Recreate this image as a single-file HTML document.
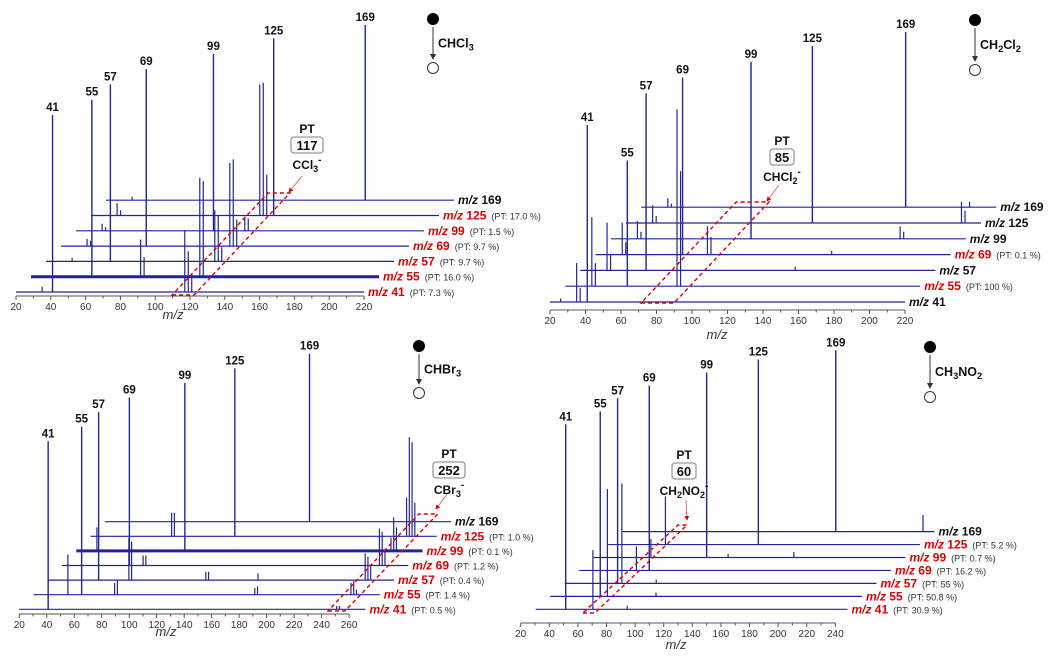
<!DOCTYPE html>
<html><head><meta charset="utf-8"><style>
html,body{margin:0;padding:0;background:#fff;}
svg{display:block;font-family:"Liberation Sans",sans-serif;}
</style></head><body>
<svg id="fig" width="1055" height="664" viewBox="0 0 1055 664" xmlns="http://www.w3.org/2000/svg"></svg>
<script>
// ---------- DATA ----------
const rowMz = [41, 55, 57, 69, 99, 125, 169];
// main peak heights (% of full scale) per panel
const p1Main = [100, 100, 100, 100, 100, 100, 99];
const p2Main = [100, 71, 100, 100, 100, 100, 99];
const p3Main = [100, 100, 100, 100, 100, 100, 100];
const p4Main = [100, 100, 100, 100, 100, 100, 98];
// PT percentages (null = no PT label)
const p1PT = ["7.3", "16.0", "9.7", "9.7", "1.5", "17.0", null];
const p2PT = [null, "100", null, "0.1", null, null, null];
const p3PT = ["0.5", "1.4", "0.4", "1.2", "0.1", "1.0", null];
const p4PT = ["30.9", "50.8", "55", "16.2", "0.7", "5.2", null];
// secondary peaks: row index, m/z, % height
const p1ExRow = [0,0,0,0, 1,1,1,1, 2,2,2,2, 3,3,3,3,3, 4,4,4,4, 5,5,5,5,5, 6];
const p1ExMz  = [35,117,119,121, 83,85,117,119, 35,117,119,121, 35,37,117,119,121, 35,37,117,119, 35,37,117,119,121, 35];
const p1ExPct = [3,35,23,10, 21,11,56,54, 2,29,26,8, 4,3,47,49,15, 4,2,8,7, 7,3,74,75,23, 2];
const p2ExRow = [0,0,0, 1,1,1,1, 2,2,2, 3,3,3,3,3, 4,4,4,4, 5,5,5,5, 6,6,6];
const p2ExMz  = [26,35,37, 35,37,83,85, 35,37,141, 35,37,83,85,153, 35,37,183,185, 35,37,209,211, 35,37,205];
const p2ExPct = [2,22,8, 39,13,100,65, 27,9,2, 18,7,16,10,2, 10,4,7,4, 10,4,12,7, 5,2,3];
const p3ExRow = [0,0, 1,1,1,1,1,1,1,1, 2,2,2,2,2,2,2,2, 3,3,3,3,3, 4,4,4,4, 5,5,5,5,5,5];
const p3ExMz  = [251,253, 45,79,81,181,183,251,253,255, 79,81,135,137,173,251,253,255, 79,81,251,253,255, 35,249,251,253, 79,81,250,252,254,256];
const p3ExPct = [2,2, 24,7,9,4,5,7,8,3, 25,23,5,5,4,16,14,9, 6,6,22,20,8, 14,8,20,14, 14,14,23,59,56,20];
const p4ExRow = [0,0, 1,1, 2,2, 3, 4,4,4, 5, 6];
const p4ExMz  = [60,84, 60,94, 60,84, 60, 60,114,160, 60, 230];
const p4ExPct = [32,2, 58,2, 54,2, 13, 10,2,3, 26, 9];
// axis tick labels
const p1Ticks = [20,40,60,80,100,120,140,160,180,200,220];
const p2Ticks = [20,40,60,80,100,120,140,160,180,200,220];
const p3Ticks = [20,40,60,80,100,120,140,160,180,200,220,240,260];
const p4Ticks = [20,40,60,80,100,120,140,160,180,200,220,240];

// ---------- LAYOUT (geometry only) ----------
const panels = [
 {id:'chcl3', x0:16, k:1.74, axY:296, base0:292, dy:15.3, s0:0, dx:15, h:177, axMax:220, lineMax:220,
  main:p1Main, pt:p1PT, exR:p1ExRow, exM:p1ExMz, exP:p1ExPct, ticks:p1Ticks, red:[1,1,1,1,1,1,0], thick:[0,3,0,0,0,0,0],
  para:{bLo:109.7,bHi:122.3,bY:295,tLo:113.1,tHi:125.7,tY:193},
  ptLbl:{x:307,y:133,num:'117',form:['CCl','3']}, arrow:[302,176,289,192],
  mol:{x:433,y1:19,y2:68,form:['CHCl','3','']}, xl:{x:173,y:319}},
 {id:'ch2cl2', x0:550, k:1.775, axY:310, base0:302, dy:15.8, s0:0, dx:15.2, h:177, axMax:220, lineMax:220,
  main:p2Main, pt:p2PT, exR:p2ExRow, exM:p2ExMz, exP:p2ExPct, ticks:p2Ticks, red:[0,1,0,1,0,0,0], thick:[0,0,0,0,0,0,0],
  para:{bLo:71.3,bHi:89.9,bY:303,tLo:73.5,tHi:92,tY:202},
  ptLbl:{x:782,y:145,num:'85',form:['CHCl','2']}, arrow:[779,185,767,201],
  mol:{x:975,y1:20,y2:70,form:['CH','2','Cl','2']}, xl:{x:717,y:339}},
 {id:'chbr3', x0:19.3, k:1.374, axY:614, base0:609.3, dy:14.6, s0:0, dx:14.25, h:168, axMax:260, lineMax:272,
  main:p3Main, pt:p3PT, exR:p3ExRow, exM:p3ExMz, exP:p3ExPct, ticks:p3Ticks, red:[1,1,1,1,1,1,0], thick:[0,0,0,0,3,0,0],
  para:{bLo:244.7,bHi:257,bY:611,tLo:248.5,tHi:262.3,tY:514},
  ptLbl:{x:449,y:458,num:'252',form:['CBr','3']}, arrow:[447,494,436,509],
  mol:{x:419,y1:346,y2:393,form:['CHBr','3','']}, xl:{x:166,y:636}},
 {id:'ch3no2', x0:520.7, k:1.43, axY:623, base0:609.3, dy:12.95, s0:15, dx:14.5, h:185, axMax:240, lineMax:238,
  main:p4Main, pt:p4PT, exR:p4ExRow, exM:p4ExMz, exP:p4ExPct, ticks:p4Ticks, red:[1,1,1,1,1,1,0], thick:[0,0,0,0,0,0,0],
  para:{bLo:53,bHi:61.4,bY:613,tLo:58.7,tHi:65,tY:525},
  ptLbl:{x:684,y:459,num:'60',form:['CH','2','NO','2']}, arrow:[686,500,687,520],
  mol:{x:930,y1:347,y2:397,form:['CH','3','NO','2']}, xl:{x:676,y:649}}
];

const NS = 'http://www.w3.org/2000/svg';
const svg = document.getElementById('fig');
const BLUE = '#24249a', RED = '#e00000';
function mk(tag, attrs, parent){ const e=document.createElementNS(NS,tag); for(const a in attrs) e.setAttribute(a,attrs[a]); (parent||svg).appendChild(e); return e; }

const defs = mk('defs',{});
const mRed = mk('marker',{id:'ar',markerWidth:6,markerHeight:6,refX:5,refY:3,orient:'auto'},defs);
mk('path',{d:'M0,0 L6,3 L0,6 z',fill:RED},mRed);
const mBlk = mk('marker',{id:'ab',markerWidth:6,markerHeight:6,refX:5,refY:3,orient:'auto'},defs);
mk('path',{d:'M0,0 L6,3 L0,6 z',fill:'#333'},mBlk);

function formula(parent, x, y, parts, size, anchor){
  const t = mk('text',{x:x,y:y,'font-size':size,'font-weight':'bold',fill:'#111','text-anchor':anchor||'start'},parent);
  for(let i=0;i<parts.length;i++){
    if(!parts[i]) continue;
    const ts = mk('tspan',{},t);
    if(i%2===1){ ts.setAttribute('font-size',size*0.75); ts.setAttribute('dy',3); }
    else if(i>0){ ts.setAttribute('dy',-3); }
    ts.textContent = parts[i];
  }
  return t;
}

panels.forEach((P)=>{
  const g = mk('g',{});
  
  
  const xAt = (mz, r) => P.x0 + (mz-20)*P.k + P.s0 + r*P.dx;
  const baseAt = r => P.base0 - r*P.dy;
  const hAt = pct => pct/100*P.h;

  const ax = mk('g',{},g);
   
  mk('line',{x1:P.x0,y1:P.axY,x2:P.x0+(P.axMax-20)*P.k,y2:P.axY,stroke:'#555','stroke-width':1},ax);
  for(let v=20; v<=P.axMax; v+=10){
    const x = P.x0+(v-20)*P.k;
    mk('line',{x1:x,y1:P.axY,x2:x,y2:P.axY+(v%20===0?4:2.5),stroke:'#555','stroke-width':1},ax);
  }
  P.ticks.forEach(v=>{
    const t = mk('text',{x:P.x0+(v-20)*P.k,y:P.axY+14,'font-size':10,fill:'#333','text-anchor':'middle'},ax);
     
    t.textContent = v;
  });
  const xl = mk('text',{x:P.xl.x,y:P.xl.y,'font-size':13,'font-style':'italic',fill:'#333','text-anchor':'middle'},g);
   
  xl.textContent = 'm/z';

  for(let r=rowMz.length-1; r>=0; r--){
    const rg = mk('g',{},g);
     
    const b = baseAt(r);
    const xs = xAt(20,r), xe = xAt(P.lineMax,r);
    mk('line',{x1:xs,y1:b,x2:xe,y2:b,stroke:BLUE,'stroke-width':P.thick[r]||1.2},rg);
    for(let i=0;i<P.exR.length;i++){
      if(P.exR[i]!==r) continue;
      const x = xAt(P.exM[i],r);
      const pk = mk('line',{x1:x,y1:b,x2:x,y2:b-hAt(P.exP[i]),stroke:BLUE,'stroke-width':1.2},rg);
       
    }
    const xm = xAt(rowMz[r],r), top = b-hAt(P.main[r]);
    const mp = mk('line',{x1:xm,y1:b,x2:xm,y2:top,stroke:BLUE,'stroke-width':1.4},rg);
     
    const pl = mk('text',{x:xm,y:top-4,'font-size':11.5,'font-weight':'bold',fill:'#111','text-anchor':'middle'},rg);
     
    pl.textContent = rowMz[r];
    const lt = mk('text',{x:xe+4,y:b+4,'font-size':12,'font-weight':'bold',fill:P.red[r]?RED:'#111'},rg);
     
    const a = mk('tspan',{'font-style':'italic'},lt); a.textContent='m/z ';
    const bb = mk('tspan',{},lt); bb.textContent=rowMz[r];
    if(P.pt[r]!==null){
      const c = mk('tspan',{'font-size':9,'font-weight':'normal',fill:'#333',dx:5},lt);
      c.textContent = '(PT: '+P.pt[r]+' %)';
    }
  }

  const pa = P.para, r6 = rowMz.length-1;
  const pts = [[xAt(pa.bLo,0),pa.bY],[xAt(pa.bHi,0),pa.bY],[xAt(pa.tHi,r6),pa.tY],[xAt(pa.tLo,r6),pa.tY]];
  const poly = mk('polygon',{points:pts.map(p=>p.join(',')).join(' '),fill:'none',stroke:RED,'stroke-width':1.4,'stroke-dasharray':'4,3'},g);
   

  const L = P.ptLbl;
  const ptg = mk('g',{},g);
   
  const t1 = mk('text',{x:L.x,y:L.y,'font-size':12,'font-weight':'bold',fill:'#111','text-anchor':'middle'},ptg);
  t1.textContent='PT';
  const w = L.num.length*8+8;
  mk('rect',{x:L.x-w/2,y:L.y+4,width:w,height:16,rx:3,fill:'#fff',stroke:'#999','stroke-width':1.3},ptg);
  const t2 = mk('text',{x:L.x,y:L.y+17,'font-size':13,'font-weight':'bold',fill:'#111','text-anchor':'middle'},ptg);
  t2.textContent=L.num;
  const f = formula(ptg, L.x, L.y+36, L.form, 12, 'middle');
  const sup = mk('tspan',{dy:-9,'font-size':10},f); sup.textContent='-';
  const arw = mk('line',{x1:P.arrow[0],y1:P.arrow[1],x2:P.arrow[2],y2:P.arrow[3],stroke:'#e05050','stroke-width':0.8,'marker-end':'url(#ar)'},ptg);
   

  const M = P.mol;
  const mg = mk('g',{},g);
   
  mk('circle',{cx:M.x,cy:M.y1,r:6,fill:'#000'},mg);
  mk('line',{x1:M.x,y1:M.y1+8,x2:M.x,y2:M.y2-9,stroke:'#333','stroke-width':1,'marker-end':'url(#ab)'},mg);
  mk('circle',{cx:M.x,cy:M.y2,r:5.5,fill:'#fff',stroke:'#333','stroke-width':1},mg);
  formula(mg, M.x+5, (M.y1+M.y2)/2+4, M.form, 12.5, 'start');
});
</script>
</body></html>
